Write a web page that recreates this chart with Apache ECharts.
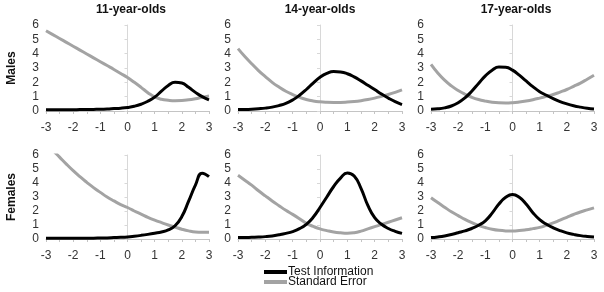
<!DOCTYPE html>
<html lang="en">
<head>
    <meta charset="UTF-8">
    <title>Test information and standard error</title>
    <style>
        * { margin: 0; padding: 0; }
        body { background: #fff; }
        #main { width: 604px; height: 292px; }
    </style>
    <script src="https://cdn.jsdelivr.net/npm/echarts@6/dist/echarts.min.js"></script>
</head>
<body>
    <div id="main"></div>
<script>
    // theta grid (ability), shared by every panel
    var thetas = [-3, -2.75, -2.5, -2.25, -2, -1.75, -1.5, -1.25, -1, -0.75, -0.5, -0.25, 0,
                  0.25, 0.5, 0.75, 1, 1.25, 1.5, 1.75, 2, 2.25, 2.5, 2.75, 3];

    // Males
    var m11Info = [0.08, 0.08, 0.08, 0.09, 0.09, 0.1, 0.1, 0.11, 0.12, 0.14, 0.17, 0.2, 0.25,
                   0.33, 0.47, 0.68, 0.97, 1.38, 1.78, 2.0, 1.95, 1.65, 1.3, 1.0, 0.78];
    var m11Se   = [5.6, 5.33, 5.06, 4.79, 4.52, 4.25, 3.98, 3.71, 3.44, 3.17, 2.9, 2.62, 2.33,
                   2.0, 1.65, 1.28, 0.98, 0.82, 0.75, 0.72, 0.73, 0.78, 0.86, 0.96, 1.05];
    var m14Info = [0.1, 0.11, 0.13, 0.16, 0.2, 0.27, 0.38, 0.53, 0.77, 1.1, 1.5, 1.95, 2.35,
                   2.62, 2.75, 2.72, 2.6, 2.38, 2.1, 1.8, 1.5, 1.18, 0.9, 0.65, 0.45];
    var m14Se   = [4.35, 3.8, 3.3, 2.82, 2.4, 2.0, 1.67, 1.38, 1.15, 0.95, 0.8, 0.7, 0.64,
                   0.61, 0.6, 0.6, 0.62, 0.66, 0.72, 0.8, 0.9, 1.02, 1.15, 1.3, 1.47];
    var m17Info = [0.12, 0.15, 0.22, 0.35, 0.58, 0.92, 1.38, 1.92, 2.45, 2.85, 3.07, 3.05, 2.85,
                   2.5, 2.1, 1.7, 1.35, 1.1, 0.87, 0.66, 0.5, 0.37, 0.27, 0.19, 0.14];
    var m17Se   = [3.25, 2.65, 2.15, 1.75, 1.43, 1.17, 0.96, 0.8, 0.69, 0.61, 0.57, 0.56, 0.58,
                   0.63, 0.7, 0.79, 0.9, 1.02, 1.15, 1.32, 1.5, 1.72, 1.95, 2.22, 2.5];

    // Females
    var f11Info = [0.05, 0.05, 0.05, 0.05, 0.05, 0.06, 0.06, 0.06, 0.07, 0.08, 0.1, 0.12, 0.15,
                   0.2, 0.26, 0.33, 0.41, 0.5, 0.65, 0.95, 1.6, 2.7, 3.85, 4.7, 4.45];
    var f11Se   = [6.9, 6.35, 5.85, 5.35, 4.88, 4.45, 4.05, 3.67, 3.33, 3.0, 2.72, 2.46, 2.25,
                   2.0, 1.78, 1.55, 1.35, 1.17, 1.0, 0.85, 0.7, 0.58, 0.5, 0.48, 0.48];
    var f14Info = [0.1, 0.1, 0.12, 0.14, 0.17, 0.22, 0.3, 0.4, 0.53, 0.74, 1.05, 1.55, 2.25,
                   3.0, 3.75, 4.35, 4.72, 4.5, 3.62, 2.4, 1.52, 1.05, 0.75, 0.55, 0.4];
    var f14Se   = [4.55, 4.2, 3.85, 3.45, 3.08, 2.72, 2.38, 2.05, 1.76, 1.45, 1.12, 0.9, 0.72,
                   0.6, 0.5, 0.44, 0.41, 0.45, 0.56, 0.72, 0.88, 1.04, 1.2, 1.36, 1.52];
    var f17Info = [0.1, 0.15, 0.22, 0.32, 0.45, 0.58, 0.75, 0.98, 1.3, 1.85, 2.5, 2.98, 3.18,
                   2.98, 2.5, 1.88, 1.38, 1.05, 0.8, 0.6, 0.44, 0.33, 0.24, 0.18, 0.14];
    var f17Se   = [2.95, 2.6, 2.27, 1.95, 1.67, 1.4, 1.17, 0.97, 0.82, 0.7, 0.62, 0.58, 0.57,
                   0.6, 0.66, 0.74, 0.83, 0.98, 1.15, 1.35, 1.55, 1.75, 1.93, 2.08, 2.22];

    var ageTitles = ['11-year-olds', '14-year-olds', '17-year-olds'];
    var rowLabels = ['Males', 'Females'];
    var seriesNames = ['Test Information', 'Standard Error'];

    var panels = [
        [m11Info, m11Se], [m14Info, m14Se], [m17Info, m17Se],
        [f11Info, f11Se], [f14Info, f14Se], [f17Info, f17Se]
    ];

    var colLeft = [46, 238, 431];
    var colWidth = [163, 164, 163];
    var titleX = [131, 320, 516];
    var rowTop = [25, 155];
    var rowHeight = [86, 84];
    var font = 'Liberation Sans, Arial, sans-serif';

    function pairs(ys) {
        return thetas.map(function (t, i) { return [t, ys[i]]; });
    }

    function initEchart() {
        var grid = [], xAxis = [], yAxis = [], series = [];
        var axisColor = '#c4c4c4';
        var labelStyle = { color: '#333', fontSize: 12, fontFamily: font };

        for (var p = 0; p < 6; p++) {
            var r = Math.floor(p / 3), c = p % 3;
            grid.push({ left: colLeft[c], top: rowTop[r], width: colWidth[c], height: rowHeight[r] });
            xAxis.push({
                type: 'value', gridIndex: p, min: -3, max: 3, interval: 1,
                splitLine: { show: false },
                axisLine: { onZero: false, lineStyle: { color: axisColor } },
                axisTick: { show: true, length: 3, lineStyle: { color: axisColor } },
                minorTick: { show: true, splitNumber: 2, length: 3, lineStyle: { color: axisColor } },
                axisLabel: Object.assign({ margin: 11 }, labelStyle)
            });
            yAxis.push({
                type: 'value', gridIndex: p, min: 0, max: 6, interval: 1,
                splitLine: { show: false },
                axisLine: { show: true, lineStyle: { color: '#d8d8d8' } },
                axisTick: { show: true, length: 3, lineStyle: { color: '#d8d8d8' } },
                axisLabel: Object.assign({ margin: 7 }, labelStyle)
            });
            series.push({
                name: seriesNames[0], type: 'line', xAxisIndex: p, yAxisIndex: p,
                data: pairs(panels[p][0]), smooth: 0.5, showSymbol: false, z: 3,
                lineStyle: { color: '#000', width: 3 }, itemStyle: { color: '#000' }
            });
            series.push({
                name: seriesNames[1], type: 'line', xAxisIndex: p, yAxisIndex: p,
                data: pairs(panels[p][1]), smooth: 0.5, showSymbol: false, z: 2,
                lineStyle: { color: '#a3a3a3', width: 3 }, itemStyle: { color: '#a3a3a3' }
            });
        }

        var graphics = ageTitles.map(function (t, c) {
            return {
                type: 'text', x: titleX[c], y: 10,
                style: {
                    text: t, fontSize: 12, fontWeight: 'bold', fill: '#111',
                    align: 'center', verticalAlign: 'middle', fontFamily: font
                }
            };
        });
        rowLabels.forEach(function (t, r) {
            graphics.push({
                type: 'text', rotation: Math.PI / 2,
                x: 12, y: rowTop[r] + rowHeight[r] / 2,
                style: {
                    text: t, fontSize: 12, fontWeight: 'bold', fill: '#111',
                    align: 'center', verticalAlign: 'middle', fontFamily: font
                }
            });
        });

        var option = {
            animation: false,
            grid: grid,
            xAxis: xAxis,
            yAxis: yAxis,
            legend: {
                orient: 'vertical', left: 264, top: 266, height: 40, itemGap: -2,
                padding: 0,
                itemWidth: 23, itemHeight: 4, icon: 'rect',
                data: seriesNames,
                textStyle: { fontSize: 12, color: '#111', padding: [0, 0, 0, -4], fontFamily: font }
            },
            graphic: graphics,
            series: series
        };
        var myChart = echarts.init(document.getElementById('main'));
        myChart.setOption(option);
    }
    initEchart();
</script>
</body>
</html>
